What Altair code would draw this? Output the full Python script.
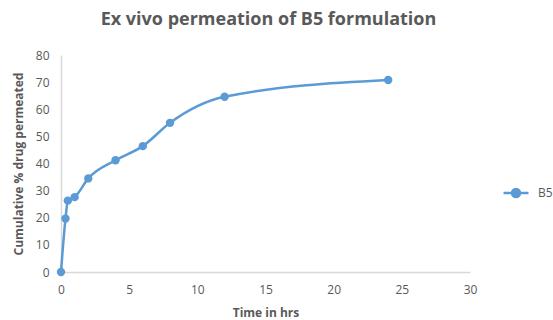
import altair as alt
import pandas as pd

time_hrs = [0, 0.33, 0.5, 1, 2, 4, 6, 8, 12, 24]
permeated = [0, 19.7, 26.3, 27.6, 34.5, 41.2, 46.4, 55.0, 64.6, 70.8]
series = ["B5"] * len(time_hrs)

df = pd.DataFrame({"Time": time_hrs, "Perm": permeated, "Series": series})

legend_symbol = "M-1,0H1M-0.32,0A0.32,0.32 0 1,1 0.32,0A0.32,0.32 0 1,1 -0.32,0Z"

color = alt.Color("Series:N", scale=alt.Scale(domain=["B5"], range=["#5B9BD5"]),
                  legend=alt.Legend(title=None, orient="none", legendX=441, legendY=124,
                                    padding=0, symbolType=legend_symbol, symbolStrokeWidth=2.5,
                                    symbolSize=625, symbolFillColor="#5B9BD5",
                                    symbolStrokeColor="#5B9BD5", symbolOpacity=1,
                                    labelOffset=8,
                                    labelFont="Open Sans", labelFontSize=12, labelColor="#595959"))

base = alt.Chart(df).encode(
    x=alt.X("Time:Q", scale=alt.Scale(domain=[0, 30], nice=False),
            axis=alt.Axis(values=[0, 5, 10, 15, 20, 25, 30], title="Time in hrs",
                          grid=False, ticks=False, domainColor="#d9d9d9", domainWidth=1.5,
                          labelFlush=False,
                          labelFont="Open Sans", labelFontSize=12, labelColor="#595959",
                          labelPadding=12, titleFont="Open Sans", titleFontSize=12,
                          titleColor="#595959", titleFontWeight="bold", titlePadding=12)),
    y=alt.Y("Perm:Q", scale=alt.Scale(domain=[0, 80], nice=False),
            axis=alt.Axis(values=[0, 10, 20, 30, 40, 50, 60, 70, 80],
                          title="Cumulative % drug permeated",
                          grid=False, ticks=False, domainColor="#d9d9d9", domainWidth=1.5,
                          labelFlush=False,
                          labelFont="Open Sans", labelFontSize=12, labelColor="#595959",
                          labelPadding=12, titleFont="Open Sans", titleFontSize=12,
                          titleColor="#595959", titleFontWeight="bold", titlePadding=10)),
    color=color,
)

line = base.mark_line(interpolate="monotone", strokeWidth=2.5)
pts = base.mark_circle(size=70, opacity=1)

chart = (line + pts).properties(
    width=409, height=217,
    title=alt.TitleParams("Ex vivo permeation of B5 formulation", font="Open Sans",
                          fontSize=18, fontWeight="bold", color="#595959",
                          anchor="middle", dx=3, offset=20),
    padding={"left": 61, "top": 55, "right": 83, "bottom": 48},
    autosize=alt.AutoSizeParams(type="none"),
).configure_view(stroke=None)

chart.save("out.html", embed_options={"renderer": "svg", "actions": False})
